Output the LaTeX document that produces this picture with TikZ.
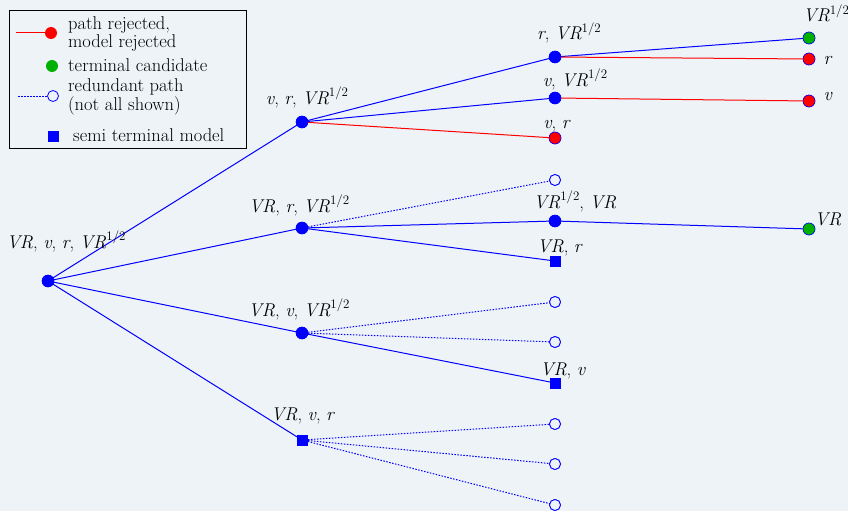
\documentclass[tikz,border=0pt]{standalone}
\definecolor{bgc}{RGB}{238,243,247}
\definecolor{gc}{RGB}{0,176,0}
\newcommand{\hlf}{\raisebox{0.42em}{\fontsize{13}{13}\selectfont 1/2}}
\newcommand{\iv}[1]{\textit{#1}}
\begin{document}
\begin{tikzpicture}[x=1pt,y=-1pt,
  every node/.style={font=\fontsize{18.5}{18.5}\selectfont},
  bdot/.style={circle,fill=blue,draw=blue,minimum size=12pt,inner sep=0pt},
  rdot/.style={circle,fill=red,draw=blue,line width=0.5pt,minimum size=12pt,inner sep=0pt},
  gdot/.style={circle,fill=gc,draw=blue,line width=0.5pt,minimum size=12pt,inner sep=0pt},
  odot/.style={circle,fill=bgc,draw=blue,line width=0.8pt,minimum size=11pt,inner sep=0pt},
  sqn/.style={rectangle,fill=blue,minimum size=11pt,inner sep=0pt},
  lbl/.style={anchor=base,inner sep=0pt},
  lgt/.style={anchor=base west,inner sep=0pt},
  bl/.style={draw=blue,line width=1pt},
  rl/.style={draw=red,line width=1pt},
  dl/.style={draw=blue,line width=1pt,dash pattern=on 1.5pt off 1.5pt}]
\fill[bgc] (0,0) rectangle (848,511);
\useasboundingbox (0,0) rectangle (848,511);
% legend
\draw[black,line width=0.8pt] (9,10) rectangle (246,148);
\coordinate (lr0) at (16,33);
\node[circle,fill=red,minimum size=12pt,inner sep=0pt] (lr) at (51,33) {};
\draw[rl] (lr0) -- (lr);
\node[circle,fill=gc,minimum size=12pt,inner sep=0pt] (lg) at (52,66) {};
\coordinate (lb0) at (18,96);
\node[odot] (lo) at (53,96) {};
\draw[dl] (lb0) -- (lo);
\node[sqn] (ls) at (53,136) {};
\node[lgt] (t1) at (68,30) {path rejected,};
\node[lgt] (t2) at (68,48) {model rejected};
\node[lgt] (t3) at (68,71) {terminal candidate};
\node[lgt] (t4) at (68,92) {redundant path};
\node[lgt] (t5) at (68,110) {(not all shown)};
\node[lgt] (t6) at (73,141) {semi terminal model};
% tree nodes
\node[bdot] (R) at (48,281) {};
\node[bdot] (A) at (302,122) {};
\node[bdot] (B) at (302,228) {};
\node[bdot] (C) at (302,333) {};
\node[sqn] (D) at (302,440) {};
\node[bdot] (A1) at (555,57) {};
\node[bdot] (A2) at (555,98) {};
\node[rdot] (A3) at (555,138) {};
\node[odot] (B1) at (555,180) {};
\node[bdot] (B2) at (555,221) {};
\node[sqn] (B3) at (555,261) {};
\node[odot] (C1) at (555,302) {};
\node[odot] (C2) at (555,342) {};
\node[sqn] (C3) at (555,383) {};
\node[odot] (D1) at (555,424) {};
\node[odot] (D2) at (555,464) {};
\node[odot] (D3) at (555,505) {};
\node[gdot] (A11) at (809,38) {};
\node[rdot] (A12) at (809,59) {};
\node[rdot] (A21) at (809,101) {};
\node[gdot] (B21) at (809,229) {};
% edges
\draw[bl] (R.center) -- (A.center);
\draw[bl] (R.center) -- (B.center);
\draw[bl] (R.center) -- (C.center);
\draw[bl] (R.center) -- (D.center);
\draw[bl] (A.center) -- (A1.center);
\draw[bl] (A.center) -- (A2.center);
\draw[rl] (A.center) -- (A3.center);
\draw[dl] (B.center) -- (B1.center);
\draw[bl] (B.center) -- (B2.center);
\draw[bl] (B.center) -- (B3.center);
\draw[dl] (C.center) -- (C1.center);
\draw[dl] (C.center) -- (C2.center);
\draw[bl] (C.center) -- (C3.center);
\draw[dl] (D.center) -- (D1.center);
\draw[dl] (D.center) -- (D2.center);
\draw[dl] (D.center) -- (D3.center);
\draw[bl] (A1.center) -- (A11.center);
\draw[rl] (A1.center) -- (A12.center);
\draw[rl] (A2.center) -- (A21.center);
\draw[bl] (B2.center) -- (B21.center);
% redraw nodes on top
\foreach \n/\s in {R/bdot,A/bdot,B/bdot,C/bdot,D/sqn,A1/bdot,A2/bdot,A3/rdot,B1/odot,B2/bdot,B3/sqn,C1/odot,C2/odot,C3/sqn,D1/odot,D2/odot,D3/odot,A11/gdot,A12/rdot,A21/rdot,B21/gdot}
  \node[\s] at (\n) {};
% labels
\node[lbl] (lR) at (66,248) {\iv{VR}, \iv{v}, \iv{r}, \iv{VR}\hlf};
\node[lbl] (lA) at (307,104) {\iv{v}, \iv{r}, \iv{VR}\hlf};
\node[lbl] (lB) at (299,212) {\iv{VR}, \iv{r}, \iv{VR}\hlf};
\node[lbl] (lC) at (299,316) {\iv{VR}, \iv{v}, \iv{VR}\hlf};
\node[lbl] (lD) at (303,420) {\iv{VR}, \iv{v}, \iv{r}};
\node[lbl] (lA1) at (569,40) {\iv{r}, \iv{VR}\hlf};
\node[lbl] (lA2) at (575,86) {\iv{v}, \iv{VR}\hlf};
\node[lbl] (lA3) at (557,128) {\iv{v}, \iv{r}};
\node[lbl] (lB2) at (575,208) {\iv{VR}\hlf, \iv{VR}};
\node[lbl] (lB3) at (560,252) {\iv{VR}, \iv{r}};
\node[lbl] (lC3) at (563,375) {\iv{VR}, \iv{v}};
\node[lbl] (lA11) at (826,22) {\iv{VR}\hlf};
\node[lbl] (lA12) at (828,64) {\iv{r}};
\node[lbl] (lA21) at (828,100) {\iv{v}};
\node[lbl] (lB21) at (828,225) {\iv{VR}};
\end{tikzpicture}
\end{document}
